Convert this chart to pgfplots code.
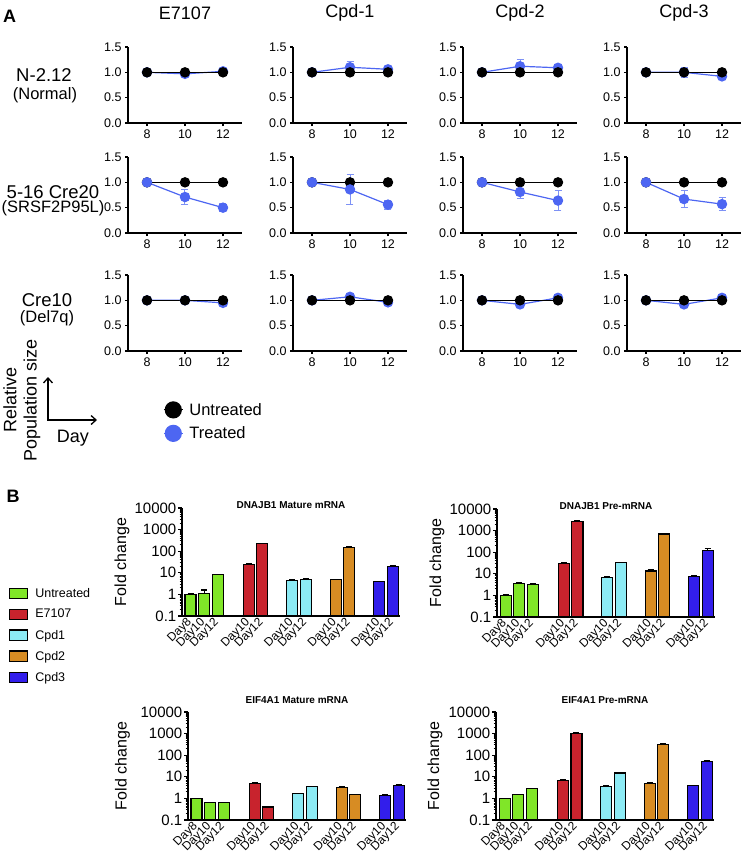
\documentclass[border=0pt]{standalone}
\usepackage{fontspec}
\setmainfont{Liberation Sans}
\usepackage{pgfplots}
\pgfplotsset{compat=1.18}
\usetikzlibrary{arrows.meta}

\definecolor{tr}{RGB}{77,102,242}
\definecolor{trl}{RGB}{125,145,245}
\definecolor{cU}{RGB}{128,230,40}
\definecolor{cE}{RGB}{200,35,45}
\definecolor{cCa}{RGB}{140,235,245}
\definecolor{cCb}{RGB}{215,140,35}
\definecolor{cCc}{RGB}{50,30,235}

\newcommand{\fs}[1]{\fontsize{#1}{#1}\selectfont}

\pgfplotsset{
  panelA/.style={
    width=114pt, height=76pt, scale only axis, anchor=south west,
    xmin=7, xmax=13, ymin=0, ymax=1.5,
    axis x line*=bottom, axis y line*=left,
    xtick={8,10,12}, ytick={0,0.5,1,1.5},
    yticklabel style={/pgf/number format/.cd, fixed, fixed zerofill, precision=1},
    /pgf/number format/assume math mode=true,
    tick align=outside, major tick length=3pt,
    tick label style={font=\fs{12.5}},
    axis line style={line width=1.1pt},
    every tick/.style={black, line width=1.1pt},
    clip=false,
    error bars/y dir=both, error bars/y explicit,
    error bars/error bar style={trl, line width=1pt},
    error bars/error mark options={rotate=90, mark size=3.5pt, trl, line width=1pt},
    legend image code/.code={\draw[mark repeat=2, mark phase=2, ##1, mark size=8pt] plot coordinates {(0pt,0pt) (9.5pt,0pt) (19pt,0pt)};},
  },
  untr/.style={black, line width=1.2pt, mark=*, mark size=4.6pt, mark options={solid, fill=black}},
  trtd/.style={tr, line width=1.2pt, mark=*, mark size=4.6pt, mark options={solid, fill=tr, draw=tr}},
  legB/.style={
    hide axis, scale only axis, width=20pt, height=20pt, anchor=north west,
    xmin=0, xmax=1, ymin=0, ymax=1,
    legend image code/.code={\draw[##1, draw=black, line width=1.1pt] (0pt,-5.3pt) rectangle (18pt,5.3pt);},
    legend style={draw=none, fill=none, at={(0,1)}, anchor=north west,
      font=\fs{12.5}, row sep=6.5pt, inner sep=0pt,
      /tikz/every odd column/.append style={column sep=5pt}},
    legend cell align=left,
  },
  barB/.style={draw=black, line width=1.1pt, fill=#1},
}

\begin{document}
\begin{tikzpicture}
\path[use as bounding box] (0pt,0pt) rectangle (744pt,-862pt);

% ---------- Panel A labels ----------
\node[font=\bfseries\fs{18}] at (9.5pt,-16pt) {A};
\node[font=\fs{18}] at (185pt,-13pt) {E7107};
\node[font=\fs{18}] at (350pt,-13pt) {Cpd-1};
\node[font=\fs{18}] at (520pt,-13pt) {Cpd-2};
\node[font=\fs{18}] at (684pt,-13pt) {Cpd-3};
\node[font=\fs{18.5}] at (44pt,-75pt) {N-2.12};
\node[font=\fs{16.5}] at (45pt,-95pt) {(Normal)};
\node[font=\fs{18.5}] at (53pt,-192pt) {5-16 Cre20};
\node[font=\fs{16.5}] at (53pt,-208pt) {(SRSF2P95L)};
\node[font=\fs{18.5}] at (47pt,-300pt) {Cre10};
\node[font=\fs{16.5}] at (47pt,-318pt) {(Del7q)};
\draw[{Straight Barb[length=5pt,width=9pt]}-{Straight Barb[length=5pt,width=9pt]}, line width=1.3pt] (48pt,-377pt) -- (48pt,-420pt) -- (97pt,-420pt);
\node[font=\fs{18}] at (73pt,-438pt) {Day};
\node[font=\fs{18}, rotate=90] at (10pt,-400pt) {Relative};
\node[font=\fs{18}, rotate=90] at (32pt,-400pt) {Population size};

% ---------- Row 1: N-2.12 ----------
\begin{axis}[panelA, at={(128pt,-123pt)}]
\addplot[trtd] coordinates {(8,1) +- (0,0) (10,0.97) +- (0,0) (12,1.02) +- (0,0)};
\addplot[untr] coordinates {(8,1) (10,1) (12,1)};
\end{axis}
\begin{axis}[panelA, at={(293pt,-123pt)}]
\addplot[trtd] coordinates {(8,1) +- (0,0) (10,1.1) +- (0,0.12) (12,1.06) +- (0,0.03)};
\addplot[untr] coordinates {(8,1) (10,1) (12,1)};
\end{axis}
\begin{axis}[panelA, at={(463pt,-123pt)}]
\addplot[trtd] coordinates {(8,1) +- (0,0) (10,1.12) +- (0,0.13) (12,1.09) +- (0,0.07)};
\addplot[untr] coordinates {(8,1) (10,1) (12,1)};
\end{axis}
\begin{axis}[panelA, at={(627pt,-123pt)}]
\addplot[trtd] coordinates {(8,1) +- (0,0) (10,1.0) +- (0,0.1) (12,0.92) +- (0,0.03)};
\addplot[untr] coordinates {(8,1) (10,1) (12,1)};
\end{axis}

% ---------- Row 2: 5-16 Cre20 ----------
\begin{axis}[panelA, at={(128pt,-233pt)},
  legend style={draw=none, fill=none, at={(axis description cs:0.307,-2.21)}, anchor=north west,
    font=\fs{16.5}, row sep=6pt, inner sep=0pt,
    /tikz/every odd column/.append style={column sep=4pt}},
  legend cell align=left]
\addplot[untr] coordinates {(8,1) (10,1) (12,1)};
\addlegendentry{Untreated}
\addplot[trtd] coordinates {(8,1) +- (0,0) (10,0.71) +- (0,0.15) (12,0.50) +- (0,0.08)};
\addlegendentry{Treated}
\end{axis}
\begin{axis}[panelA, at={(293pt,-233pt)}]
\addplot[untr] coordinates {(8,1) (10,1) (12,1)};
\addplot[trtd] coordinates {(8,1) +- (0,0) (10,0.86) +- (0,0.29) (12,0.56) +- (0,0.09)};
\end{axis}
\begin{axis}[panelA, at={(463pt,-233pt)}]
\addplot[untr] coordinates {(8,1) (10,1) (12,1)};
\addplot[trtd] coordinates {(8,1) +- (0,0) (10,0.81) +- (0,0.13) (12,0.64) +- (0,0.20)};
\end{axis}
\begin{axis}[panelA, at={(627pt,-233pt)}]
\addplot[untr] coordinates {(8,1) (10,1) (12,1)};
\addplot[trtd] coordinates {(8,1) +- (0,0) (10,0.67) +- (0,0.165) (12,0.57) +- (0,0.13)};
\end{axis}

% ---------- Row 3: Cre10 ----------
\begin{axis}[panelA, at={(128pt,-351pt)}]
\addplot[trtd] coordinates {(8,1) +- (0,0) (10,1.0) +- (0,0) (12,0.95) +- (0,0)};
\addplot[untr] coordinates {(8,1) (10,1) (12,1)};
\end{axis}
\begin{axis}[panelA, at={(293pt,-351pt)}]
\addplot[trtd] coordinates {(8,1) +- (0,0) (10,1.07) +- (0,0) (12,0.96) +- (0,0)};
\addplot[untr] coordinates {(8,1) (10,1) (12,1)};
\end{axis}
\begin{axis}[panelA, at={(463pt,-351pt)}]
\addplot[trtd] coordinates {(8,1) +- (0,0) (10,0.92) +- (0,0) (12,1.05) +- (0,0)};
\addplot[untr] coordinates {(8,1) (10,1) (12,1)};
\end{axis}
\begin{axis}[panelA, at={(627pt,-351pt)}]
\addplot[trtd] coordinates {(8,1) +- (0,0) (10,0.92) +- (0,0) (12,1.05) +- (0,0)};
\addplot[untr] coordinates {(8,1) (10,1) (12,1)};
\end{axis}

% ---------- Panel B ----------
\node[font=\bfseries\fs{18}] at (13pt,-496pt) {B};

\begin{axis}[legB, at={(9pt,-586pt)}]
\addlegendimage{fill=cU}
\addlegendentry{Untreated}
\addlegendimage{fill=cE}
\addlegendentry{E7107}
\addlegendimage{fill=cCa}
\addlegendentry{Cpd1}
\addlegendimage{fill=cCb}
\addlegendentry{Cpd2}
\addlegendimage{fill=cCc}
\addlegendentry{Cpd3}
\end{axis}

\begin{axis}[at={(182pt,-616pt)},
    width=218pt, height=108pt, scale only axis, anchor=south west,
    ymode=log, ymin=0.1, ymax=10000, log origin y=infty,
    xmin=-0.63, xmax=15.44,
    axis x line*=bottom, axis y line*=left,
    ytick={0.1,1,10,100,1000,10000},
    yticklabels={0.1,1,10,100,1000,10000},
    xtick={0,1,2,4.3,5.3,7.5,8.5,10.7,11.7,13.9,14.9},
    xticklabels={Day8,Day10,Day12,Day10,Day12,Day10,Day12,Day10,Day12,Day10,Day12},
    xticklabel style={rotate=45, anchor=east, font=\fs{12}, inner sep=1pt},
    yticklabel style={font=\fs{15}, inner sep=1.5pt},
    major x tick style={draw=none},
    tick align=outside, major tick length=4pt, minor tick length=2.5pt,
    every tick/.style={black, line width=1.1pt},
    axis line style={line width=1.5pt},
    ylabel={Fold change}, ylabel style={font=\fs{16}, anchor=center},
    title style={font=\bfseries\fs{10}, anchor=center},
    ybar, bar width=11pt, bar shift=0pt,
    error bars/y dir=plus, error bars/y explicit,
    error bars/error bar style={black, line width=1.1pt},
    error bars/error mark options={rotate=90, mark size=3pt, black, line width=1.1pt},
    title={DNAJB1 Mature mRNA}, title style={at={(0.5,1)}, yshift=-3pt},
    ylabel style={at={(axis description cs:-0.275,0.5)}}]
\addplot[barB=cU] coordinates {(0,1) +- (0,0.05) (1,1.15) +- (0,0.45) (2,8) +- (0,0.4)};
\addplot[barB=cE] coordinates {(4.3,25) +- (0,1.5) (5.3,220) +- (0,8)};
\addplot[barB=cCa] coordinates {(7.5,4.5) +- (0,0.4) (8.5,5) +- (0,0.3)};
\addplot[barB=cCb] coordinates {(10.7,4.8) +- (0,0.3) (11.7,150) +- (0,15)};
\addplot[barB=cCc] coordinates {(13.9,3.9) +- (0,0.2) (14.9,20) +- (0,1.5)};
\end{axis}

\begin{axis}[at={(497pt,-617pt)},
    width=218pt, height=108pt, scale only axis, anchor=south west,
    ymode=log, ymin=0.1, ymax=10000, log origin y=infty,
    xmin=-0.63, xmax=15.44,
    axis x line*=bottom, axis y line*=left,
    ytick={0.1,1,10,100,1000,10000},
    yticklabels={0.1,1,10,100,1000,10000},
    xtick={0,1,2,4.3,5.3,7.5,8.5,10.7,11.7,13.9,14.9},
    xticklabels={Day8,Day10,Day12,Day10,Day12,Day10,Day12,Day10,Day12,Day10,Day12},
    xticklabel style={rotate=45, anchor=east, font=\fs{12}, inner sep=1pt},
    yticklabel style={font=\fs{15}, inner sep=1.5pt},
    major x tick style={draw=none},
    tick align=outside, major tick length=4pt, minor tick length=2.5pt,
    every tick/.style={black, line width=1.1pt},
    axis line style={line width=1.5pt},
    ylabel={Fold change}, ylabel style={font=\fs{16}, anchor=center},
    title style={font=\bfseries\fs{10}, anchor=center},
    ybar, bar width=11pt, bar shift=0pt,
    error bars/y dir=plus, error bars/y explicit,
    error bars/error bar style={black, line width=1.1pt},
    error bars/error mark options={rotate=90, mark size=3pt, black, line width=1.1pt},
    title={DNAJB1 Pre-mRNA}, title style={at={(0.5,1)}, yshift=-3pt},
    ylabel style={at={(axis description cs:-0.275,0.5)}}]
\addplot[barB=cU] coordinates {(0,1) +- (0,0.05) (1,3.4) +- (0,0.4) (2,3.1) +- (0,0.3)};
\addplot[barB=cE] coordinates {(4.3,31) +- (0,4) (5.3,2600) +- (0,200)};
\addplot[barB=cCa] coordinates {(7.5,6.9) +- (0,0.7) (8.5,33) +- (0,1.5)};
\addplot[barB=cCb] coordinates {(10.7,13.5) +- (0,1.5) (11.7,700) +- (0,30)};
\addplot[barB=cCc] coordinates {(13.9,7.4) +- (0,1.3) (14.9,125) +- (0,25)};
\end{axis}

\begin{axis}[at={(188pt,-820pt)},
    width=218pt, height=108pt, scale only axis, anchor=south west,
    ymode=log, ymin=0.1, ymax=10000, log origin y=infty,
    xmin=-0.63, xmax=15.44,
    axis x line*=bottom, axis y line*=left,
    ytick={0.1,1,10,100,1000,10000},
    yticklabels={0.1,1,10,100,1000,10000},
    xtick={0,1,2,4.3,5.3,7.5,8.5,10.7,11.7,13.9,14.9},
    xticklabels={Day8,Day10,Day12,Day10,Day12,Day10,Day12,Day10,Day12,Day10,Day12},
    xticklabel style={rotate=45, anchor=east, font=\fs{12}, inner sep=1pt},
    yticklabel style={font=\fs{15}, inner sep=1.5pt},
    major x tick style={draw=none},
    tick align=outside, major tick length=4pt, minor tick length=2.5pt,
    every tick/.style={black, line width=1.1pt},
    axis line style={line width=1.5pt},
    ylabel={Fold change}, ylabel style={font=\fs{16}, anchor=center},
    title style={font=\bfseries\fs{10}, anchor=center},
    ybar, bar width=11pt, bar shift=0pt,
    error bars/y dir=plus, error bars/y explicit,
    error bars/error bar style={black, line width=1.1pt},
    error bars/error mark options={rotate=90, mark size=3pt, black, line width=1.1pt},
    title={EIF4A1 Mature mRNA}, title style={at={(0.5,1)}, yshift=6pt},
    ylabel style={at={(axis description cs:-0.30,0.5)}}]
\addplot[barB=cU] coordinates {(0,1.0) +- (0,0.03) (1,0.64) +- (0,0.02) (2,0.63) +- (0,0.02)};
\addplot[barB=cE] coordinates {(4.3,5.0) +- (0,0.2) (5.3,0.40) +- (0,0.02)};
\addplot[barB=cCa] coordinates {(7.5,1.7) +- (0,0.05) (8.5,3.4) +- (0,0.3)};
\addplot[barB=cCb] coordinates {(10.7,3.2) +- (0,0.2) (11.7,1.5) +- (0,0.05)};
\addplot[barB=cCc] coordinates {(13.9,1.4) +- (0,0.1) (14.9,3.9) +- (0,0.7)};
\end{axis}

\begin{axis}[at={(496pt,-820pt)},
    width=218pt, height=108pt, scale only axis, anchor=south west,
    ymode=log, ymin=0.1, ymax=10000, log origin y=infty,
    xmin=-0.63, xmax=15.44,
    axis x line*=bottom, axis y line*=left,
    ytick={0.1,1,10,100,1000,10000},
    yticklabels={0.1,1,10,100,1000,10000},
    xtick={0,1,2,4.3,5.3,7.5,8.5,10.7,11.7,13.9,14.9},
    xticklabels={Day8,Day10,Day12,Day10,Day12,Day10,Day12,Day10,Day12,Day10,Day12},
    xticklabel style={rotate=45, anchor=east, font=\fs{12}, inner sep=1pt},
    yticklabel style={font=\fs{15}, inner sep=1.5pt},
    major x tick style={draw=none},
    tick align=outside, major tick length=4pt, minor tick length=2.5pt,
    every tick/.style={black, line width=1.1pt},
    axis line style={line width=1.5pt},
    ylabel={Fold change}, ylabel style={font=\fs{16}, anchor=center},
    title style={font=\bfseries\fs{10}, anchor=center},
    ybar, bar width=11pt, bar shift=0pt,
    error bars/y dir=plus, error bars/y explicit,
    error bars/error bar style={black, line width=1.1pt},
    error bars/error mark options={rotate=90, mark size=3pt, black, line width=1.1pt},
    title={EIF4A1 Pre-mRNA}, title style={at={(0.5,1)}, yshift=6pt},
    ylabel style={at={(axis description cs:-0.28,0.5)}}]
\addplot[barB=cU] coordinates {(0,1.0) +- (0,0.03) (1,1.5) +- (0,0.05) (2,2.8) +- (0,0.1)};
\addplot[barB=cE] coordinates {(4.3,6.9) +- (0,0.2) (5.3,1050) +- (0,40)};
\addplot[barB=cCa] coordinates {(7.5,3.6) +- (0,0.2) (8.5,15) +- (0,0.5)};
\addplot[barB=cCb] coordinates {(10.7,4.9) +- (0,0.3) (11.7,320) +- (0,10)};
\addplot[barB=cCc] coordinates {(13.9,4.0) +- (0,0.1) (14.9,53) +- (0,2)};
\end{axis}
\end{tikzpicture}
\end{document}
